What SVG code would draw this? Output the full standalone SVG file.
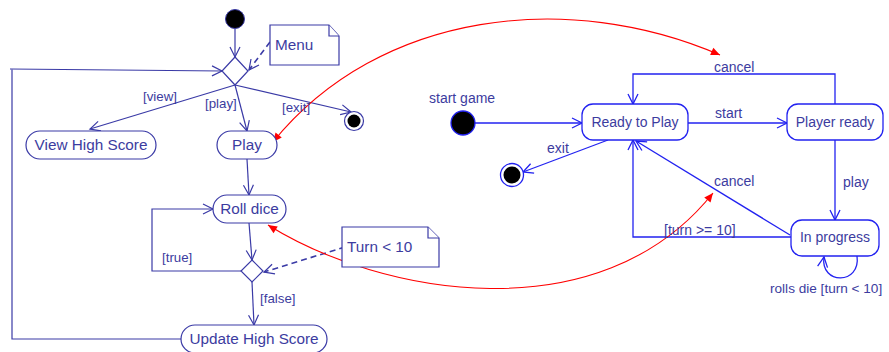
<svg xmlns="http://www.w3.org/2000/svg" width="889" height="352" viewBox="0 0 889 352">
<defs>
<marker id="openL" markerUnits="userSpaceOnUse" markerWidth="12" markerHeight="12" refX="10" refY="6" orient="auto" overflow="visible">
<path d="M0,1 L10,6 L0,11" fill="none" stroke="#3a3aa6" stroke-width="1.2"/>
</marker>
<marker id="openR" markerUnits="userSpaceOnUse" markerWidth="12" markerHeight="12" refX="10" refY="6" orient="auto" overflow="visible">
<path d="M0,1 L10,6 L0,11" fill="none" stroke="#2222f0" stroke-width="1.3"/>
</marker>
<marker id="red" markerUnits="userSpaceOnUse" markerWidth="10" markerHeight="8" refX="9" refY="4" orient="auto-start-reverse" overflow="visible">
<path d="M0,0 L9,4 L0,8 z" fill="#ff0000"/>
</marker>
</defs>
<style>
.ln{fill:none;stroke:#3a3aa6;stroke-width:1.2}
.lr{fill:none;stroke:#2222f0;stroke-width:1.3}
.dash{stroke-dasharray:6,4;stroke-width:1.6}
.nodeL{fill:#fff;stroke:#3a3aa6;stroke-width:1.2}
.nodeR{fill:#fff;stroke:#2222f0;stroke-width:1.3}
.note{fill:#fff;stroke:#3a3aa6;stroke-width:1.2}
text{font-family:"Liberation Sans",Arial,sans-serif;fill:#3c3ca0}
.big{font-size:15.3px}
.lab{font-size:13.3px}
.rn{font-size:14px}
.rl{font-size:14px}
.red{fill:none;stroke:#ff0000;stroke-width:1.1}
</style>
<rect width="889" height="352" fill="#fff"/>

<g id="connectors">
<line class="ln" x1="235" y1="29" x2="235" y2="57" marker-end="url(#openL)"/>
<line class="ln dash" x1="270" y1="42" x2="249" y2="70" marker-end="url(#openL)"/>
<path class="ln" d="M181,339 H12 V69 M10,69 L222,71" marker-end="url(#openL)"/>
<line class="ln" x1="235" y1="85" x2="90" y2="129" marker-end="url(#openL)"/>
<line class="ln" x1="235" y1="85" x2="247" y2="131" marker-end="url(#openL)"/>
<line class="ln" x1="235" y1="85" x2="351" y2="112" marker-end="url(#openL)"/>
<line class="ln" x1="247" y1="159" x2="249" y2="195" marker-end="url(#openL)"/>
<line class="ln" x1="249" y1="223" x2="252" y2="260" marker-end="url(#openL)"/>
<path class="ln" d="M241,271 H152 V209 H213" marker-end="url(#openL)"/>
<line class="ln dash" x1="345" y1="247" x2="264" y2="272" marker-end="url(#openL)"/>
<line class="ln" x1="252" y1="282" x2="254" y2="325" marker-end="url(#openL)"/>

<line class="lr" x1="475" y1="123" x2="582" y2="123" marker-end="url(#openR)"/>
<line class="lr" x1="688" y1="123" x2="787" y2="123" marker-end="url(#openR)"/>
<path class="lr" d="M835,104 V74 H633 V104" marker-end="url(#openR)"/>
<line class="lr" x1="608" y1="140" x2="523" y2="172" marker-end="url(#openR)"/>
<line class="lr" x1="835" y1="140" x2="835" y2="220" marker-end="url(#openR)"/>
<path class="lr" d="M791,237 H633 V140" marker-end="url(#openR)"/>
<line class="lr" x1="790" y1="235" x2="636" y2="141" marker-end="url(#openR)"/>
<path class="lr" d="M857,256 C861,285 820,285 824,257" marker-end="url(#openR)"/>

<path class="red" d="M273,142 C380,10 570,-10 720,55" marker-start="url(#red)" marker-end="url(#red)"/>
<path class="red" d="M268,225 C380,295 600,335 713,193" marker-start="url(#red)" marker-end="url(#red)"/>
</g>

<g id="labels">
<text class="lab" x="143" y="101">[view]</text>
<text class="lab" x="205" y="108">[play]</text>
<text class="lab" x="282" y="112">[exit]</text>
<text class="lab" x="162" y="262">[true]</text>
<text class="lab" x="260" y="303">[false]</text>
<text class="rl" x="429" y="103">start game</text>
<text class="rl" x="714" y="72">cancel</text>
<text class="rl" x="715" y="118">start</text>
<text class="rl" x="547" y="153">exit</text>
<text class="rl" x="714" y="186">cancel</text>
<text class="rl" x="843" y="187">play</text>
<text class="rl" x="664" y="235" style="font-size:14px">[turn &gt;= 10]</text>
<text class="rl" x="770" y="293" style="font-size:13.6px">rolls die [turn &lt; 10]</text>
</g>

<g id="start-left"><circle cx="235" cy="19" r="9.5" fill="#000" stroke="#3a3aa6" stroke-width="1"/></g>
<g id="decision-menu"><polygon class="nodeL" points="235,57 248,71 235,85 222,71"/></g>
<g id="note-menu">
<path class="note" d="M270,25 H329 L339,36 V65 H270 Z"/>
<path class="note" d="M329,25 V36 H339" fill="none"/>
<text class="big" x="275" y="50">Menu</text>
</g>
<g id="end-left"><circle cx="354" cy="121" r="9.5" fill="#fff" stroke="#3a3aa6" stroke-width="1.2"/><circle cx="354" cy="121" r="6.5" fill="#000"/></g>
<g id="view-high-score"><rect class="nodeL" x="26" y="131" width="130" height="28" rx="14"/><text class="big" x="91" y="150" text-anchor="middle">View High Score</text></g>
<g id="play"><rect class="nodeL" x="217" y="131" width="60" height="28" rx="14"/><text class="big" x="247" y="150" text-anchor="middle">Play</text></g>
<g id="roll-dice"><rect class="nodeL" x="213" y="195" width="73" height="28" rx="14"/><text class="big" x="249.5" y="214" text-anchor="middle">Roll dice</text></g>
<g id="decision-turn"><polygon class="nodeL" points="252,260 263,271 252,282 241,271"/></g>
<g id="note-turn">
<path class="note" d="M342,227 H428 L439,238 V267 H342 Z"/>
<path class="note" d="M428,227 V238 H439" fill="none"/>
<text class="big" x="347" y="252">Turn &lt; 10</text>
</g>
<g id="update-high-score"><rect class="nodeL" x="181" y="325" width="146" height="28" rx="14"/><text class="big" x="254" y="344" text-anchor="middle">Update High Score</text></g>

<g id="start-right"><circle cx="463" cy="123" r="12" fill="#000" stroke="#2222f0" stroke-width="1.3"/></g>
<g id="ready-to-play"><rect class="nodeR" x="582" y="104" width="106" height="36" rx="11"/><text class="rn" x="635" y="127" text-anchor="middle">Ready to Play</text></g>
<g id="player-ready"><rect class="nodeR" x="787" y="104" width="96" height="36" rx="11"/><text class="rn" x="835" y="127" text-anchor="middle">Player ready</text></g>
<g id="in-progress"><rect class="nodeR" x="791" y="220" width="88" height="36" rx="11"/><text class="rn" x="835" y="242" text-anchor="middle">In progress</text></g>
<g id="end-right"><circle cx="512" cy="175" r="11.5" fill="#fff" stroke="#2222f0" stroke-width="1.3"/><circle cx="512" cy="175" r="8.5" fill="#000"/></g>
</svg>
